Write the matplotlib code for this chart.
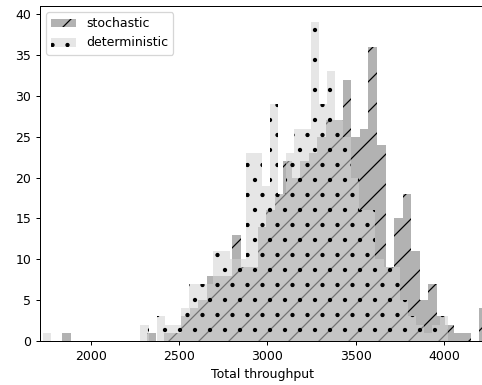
import numpy as np
import matplotlib
matplotlib.use("Agg")
import matplotlib.pyplot as plt

# Histogram counts (50 bins each)
stoch_range = (1837, 4247)
stoch_counts = [1, 0, 0, 0, 0, 0, 0, 0, 0, 0,
                1, 0, 1, 1, 3, 4, 5, 8, 8, 8,
                13, 9, 9, 14, 16, 18, 22, 20, 22, 23,
                25, 27, 27, 32, 25, 26, 36, 24, 9, 15,
                18, 11, 5, 7, 3, 2, 1, 1, 0, 4]

det_range = (1730, 4025)
det_counts = [1, 0, 0, 0, 0, 0, 0, 0, 0, 0,
              0, 0, 2, 0, 3, 2, 2, 4, 7, 7,
              7, 11, 11, 10, 10, 23, 23, 19, 29, 18,
              23, 26, 26, 39, 29, 33, 27, 25, 20, 16,
              16, 10, 9, 9, 5, 3, 2, 1, 2, 3]

labels = ["stochastic", "deterministic"]
xlabel = "Total throughput"

DPI = 90
W, H = 483, 385
fig = plt.figure(figsize=(W / DPI, H / DPI), dpi=DPI)
ax = fig.add_axes([40 / W, (H - 341) / H, 445 / W, 335 / H])

s_edges = np.linspace(stoch_range[0], stoch_range[1], len(stoch_counts) + 1)
d_edges = np.linspace(det_range[0], det_range[1], len(det_counts) + 1)
s_centers = 0.5 * (s_edges[:-1] + s_edges[1:])
d_centers = 0.5 * (d_edges[:-1] + d_edges[1:])

ax.hist(s_centers, bins=s_edges, weights=stoch_counts, color="gray",
        alpha=0.6, hatch="/", label=labels[0])
ax.hist(d_centers, bins=d_edges, weights=det_counts, color="lightgray",
        alpha=0.55, hatch=".", label=labels[1])

ax.set_xlim(1712, 4232)
ax.set_ylim(0, 41)
ax.set_xlabel(xlabel)
ax.legend(loc="upper left")

fig.savefig("out.png", dpi=DPI)
